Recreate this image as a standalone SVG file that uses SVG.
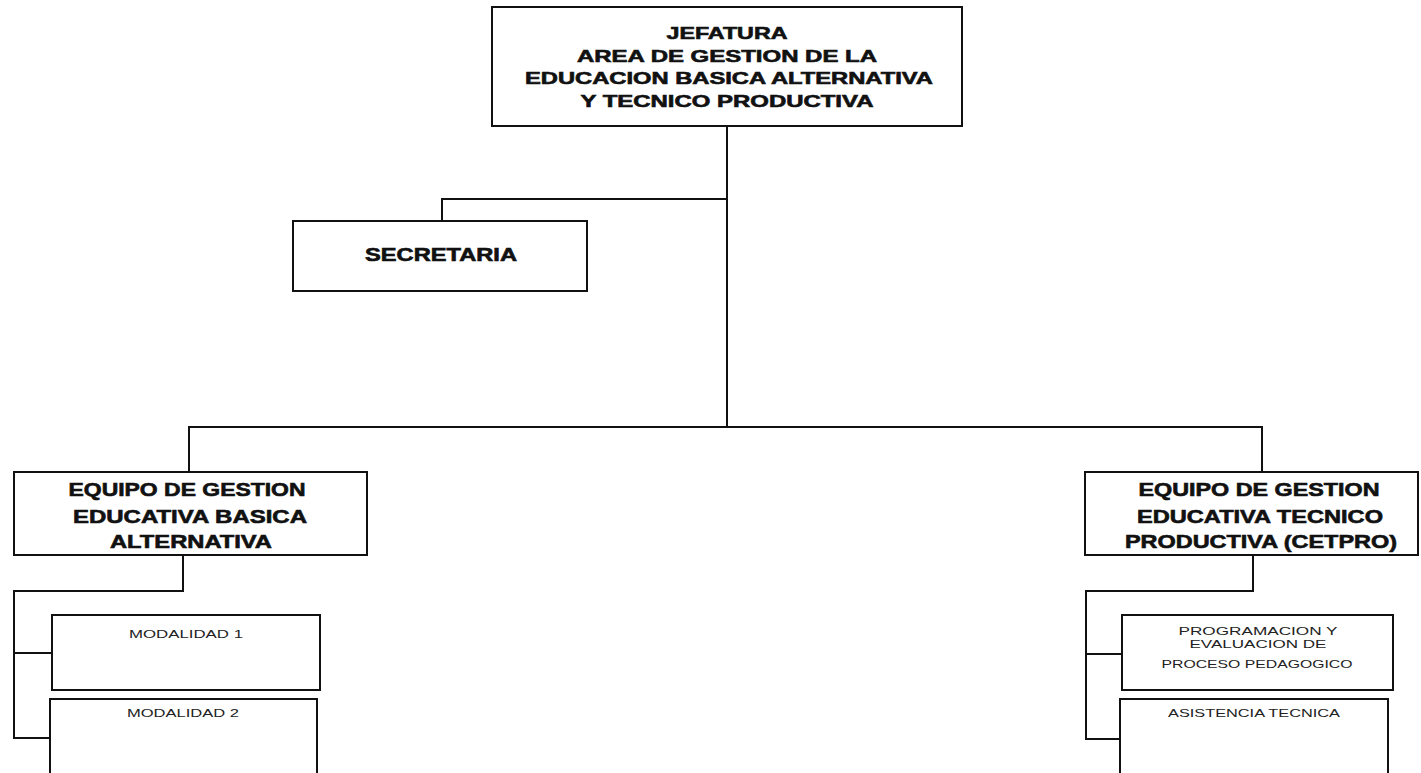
<svg xmlns="http://www.w3.org/2000/svg" width="1421" height="773" viewBox="0 0 1421 773">
<style>
.box{fill:#fff;stroke:#111;stroke-width:2}
.ln{fill:none;stroke:#111;stroke-width:2}
.hb{font-family:"Liberation Sans",Arial,sans-serif;font-weight:bold;fill:#111;stroke:#111;stroke-width:0.6;text-anchor:middle}
.sm{font-family:"Liberation Sans",Arial,sans-serif;fill:#222;text-anchor:middle;font-size:11px}
</style>
<rect width="1421" height="773" fill="#fff"/>
<g id="connectors">
<path class="ln" d="M727 126 V427"/>
<path class="ln" d="M727 199 H442 V221"/>
<path class="ln" d="M189 472 V427 H1262 V472"/>
<path class="ln" d="M183 555 V591 H14 V738 H50 M14 653 H52"/>
<path class="ln" d="M1253 555 V591 H1086 V739 H1120 M1086 654 H1122"/>
</g>
<g id="jefatura">
<rect class="box" x="492" y="7" width="470" height="119"/>
<text class="hb" font-size="16.5" x="727" y="39" textLength="121" lengthAdjust="spacingAndGlyphs">JEFATURA</text>
<text class="hb" font-size="16.5" x="727" y="62" textLength="300" lengthAdjust="spacingAndGlyphs">AREA DE GESTION DE LA</text>
<text class="hb" font-size="16.5" x="729" y="84" textLength="408" lengthAdjust="spacingAndGlyphs">EDUCACION BASICA ALTERNATIVA</text>
<text class="hb" font-size="16.5" x="727" y="107" textLength="293" lengthAdjust="spacingAndGlyphs">Y TECNICO PRODUCTIVA</text>
</g>
<g id="secretaria">
<rect class="box" x="293" y="221" width="294" height="70"/>
<text class="hb" font-size="17.5" x="441" y="261" textLength="152" lengthAdjust="spacingAndGlyphs">SECRETARIA</text>
</g>
<g id="equipo-basica">
<rect class="box" x="14" y="472" width="353" height="83"/>
<text class="hb" font-size="18" x="187" y="496" textLength="237" lengthAdjust="spacingAndGlyphs">EQUIPO DE GESTION</text>
<text class="hb" font-size="18" x="190" y="523" textLength="234" lengthAdjust="spacingAndGlyphs">EDUCATIVA BASICA</text>
<text class="hb" font-size="18" x="191" y="548" textLength="162" lengthAdjust="spacingAndGlyphs">ALTERNATIVA</text>
</g>
<g id="equipo-tecnico">
<rect class="box" x="1085" y="472" width="333" height="83"/>
<text class="hb" font-size="18" x="1259" y="496" textLength="241" lengthAdjust="spacingAndGlyphs">EQUIPO DE GESTION</text>
<text class="hb" font-size="18" x="1260" y="523" textLength="246" lengthAdjust="spacingAndGlyphs">EDUCATIVA TECNICO</text>
<text class="hb" font-size="18" x="1261" y="548" textLength="272" lengthAdjust="spacingAndGlyphs">PRODUCTIVA (CETPRO)</text>
</g>
<g id="modalidad1">
<rect class="box" x="52" y="615" width="268" height="75"/>
<text class="sm" x="186" y="638" textLength="114" lengthAdjust="spacingAndGlyphs">MODALIDAD  1</text>
</g>
<g id="modalidad2">
<rect class="box" x="50" y="699" width="267" height="80"/>
<text class="sm" x="183" y="717" textLength="112" lengthAdjust="spacingAndGlyphs">MODALIDAD  2</text>
</g>
<g id="programacion">
<rect class="box" x="1122" y="615" width="271" height="75"/>
<text class="sm" x="1258" y="635" textLength="159" lengthAdjust="spacingAndGlyphs">PROGRAMACION  Y</text>
<text class="sm" x="1258" y="648" textLength="137" lengthAdjust="spacingAndGlyphs">EVALUACION  DE</text>
<text class="sm" x="1257" y="668" textLength="191" lengthAdjust="spacingAndGlyphs">PROCESO  PEDAGOGICO</text>
</g>
<g id="asistencia">
<rect class="box" x="1120" y="699" width="268" height="80"/>
<text class="sm" x="1254" y="717" textLength="172" lengthAdjust="spacingAndGlyphs">ASISTENCIA  TECNICA</text>
</g>
</svg>
